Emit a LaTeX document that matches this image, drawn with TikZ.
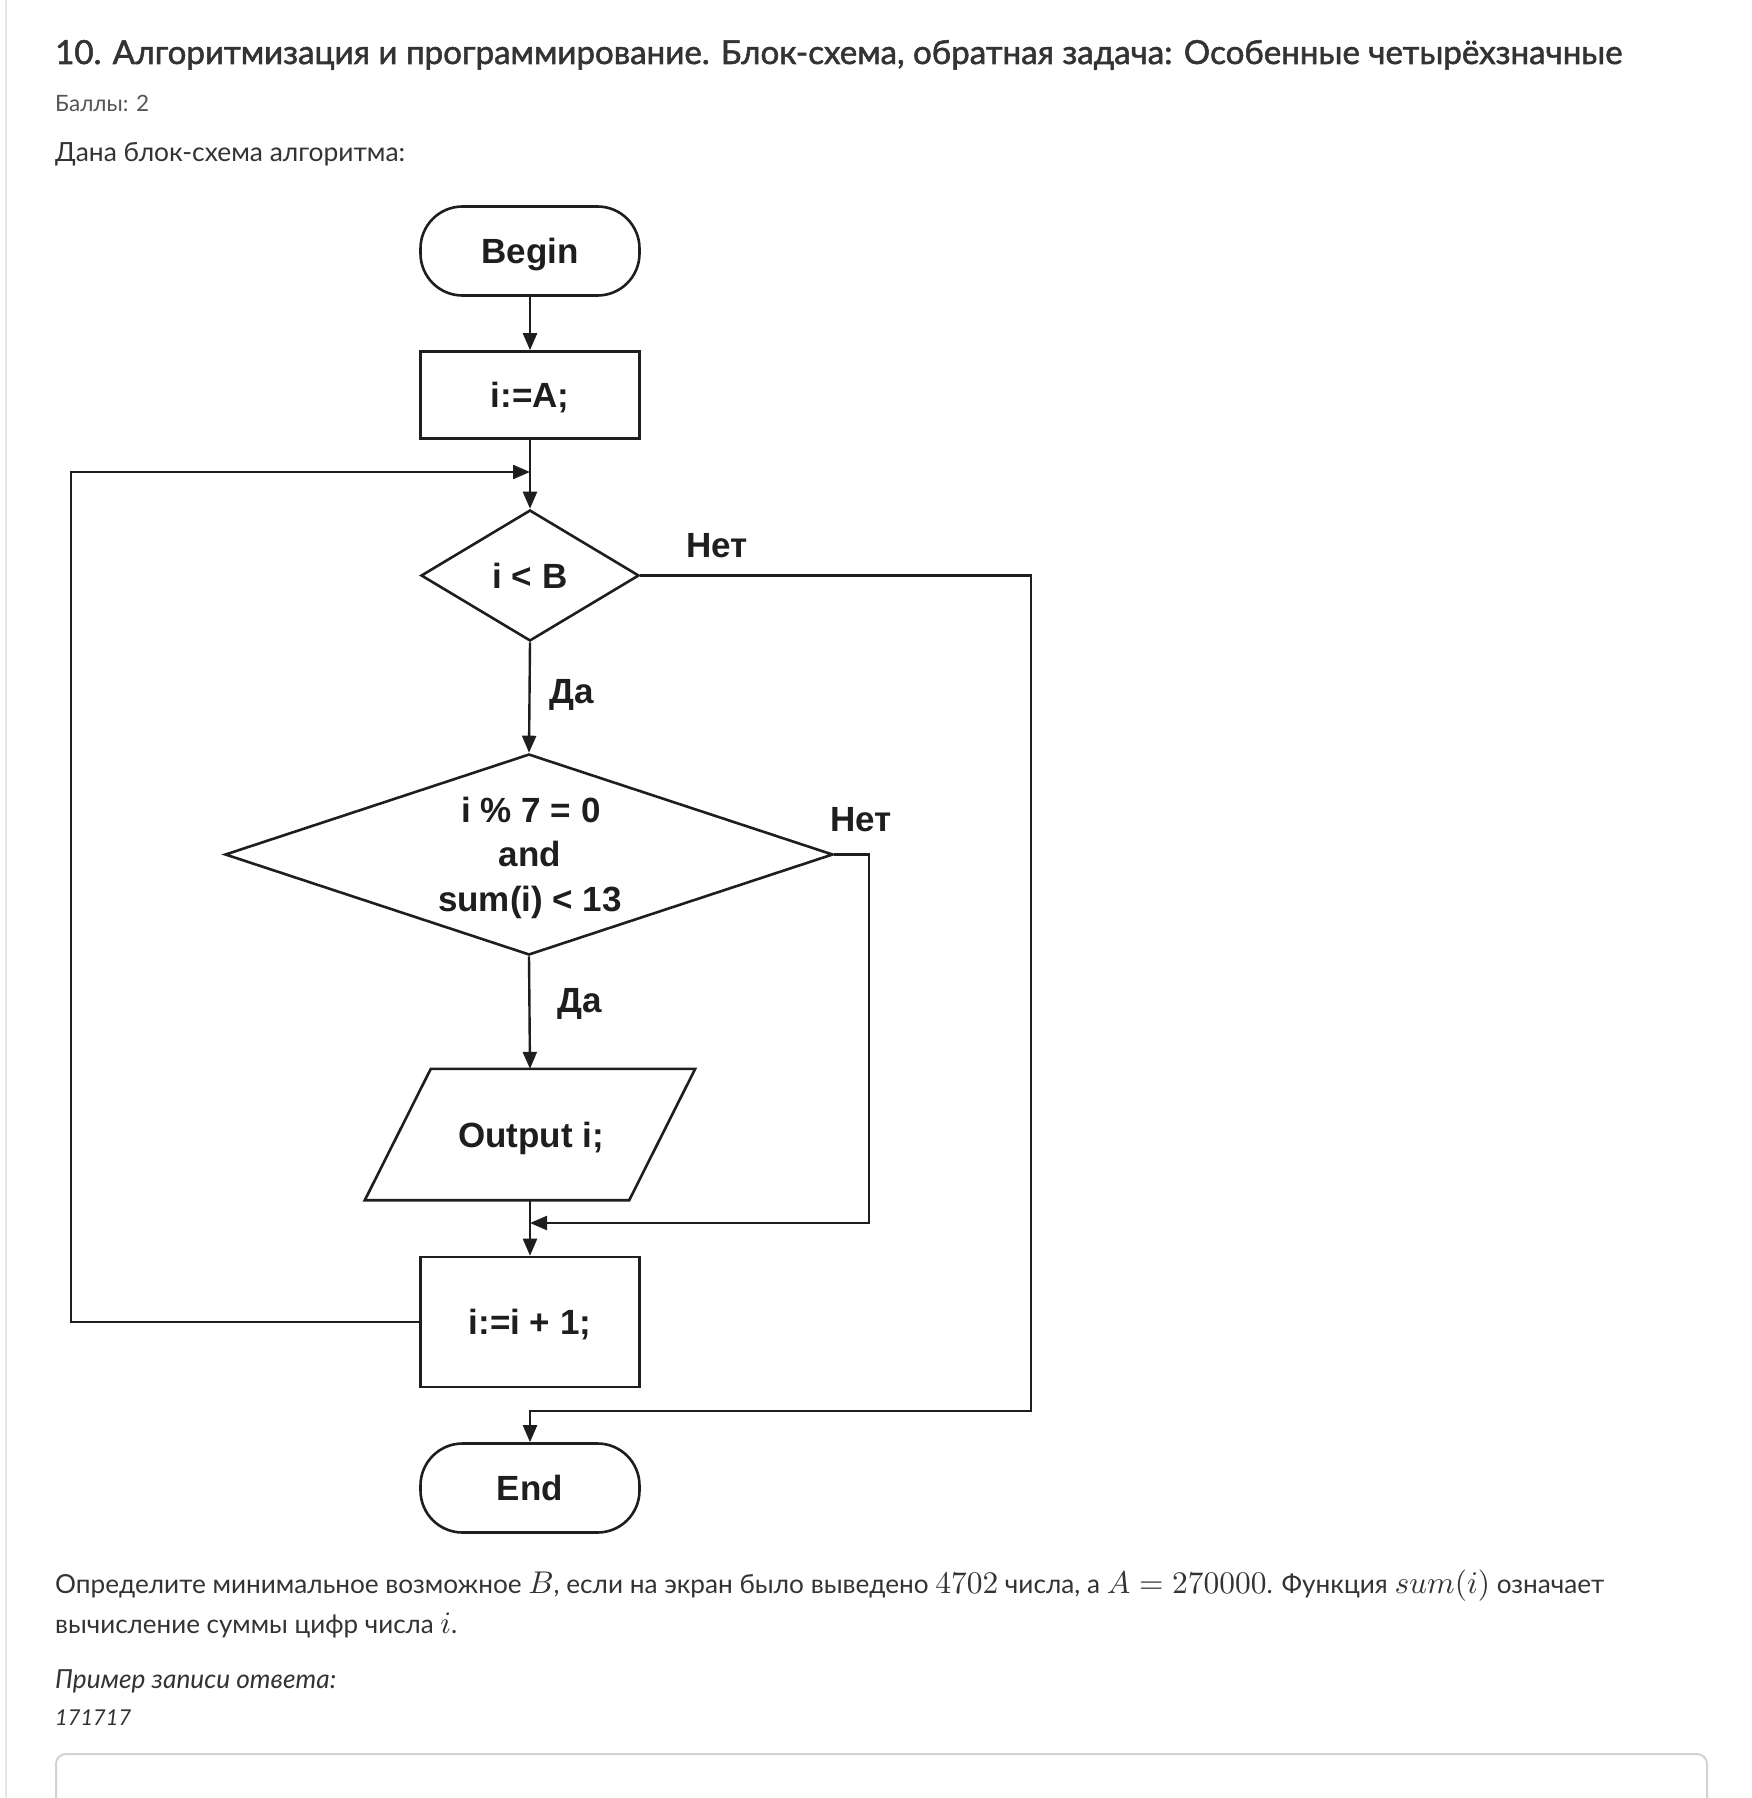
\documentclass[tikz,border=0pt]{standalone}
\usepackage{fontspec}
\usepackage{graphicx}
\setmainfont{Lato}
\newfontfamily\fcfont{Liberation Sans}
\newfontfamily\titlefont{Lato}[FakeBold=1.6]
\newcommand\mth[1]{\scalebox{1.2}{$#1$}}
\usetikzlibrary{shapes.geometric,arrows.meta}
\definecolor{txt}{HTML}{333333}
\definecolor{soft}{HTML}{555555}
\definecolor{edge}{HTML}{E6E6E6}
\definecolor{boxline}{HTML}{D2D2D2}
\definecolor{ink}{HTML}{1E1E1E}
\begin{document}
\begin{tikzpicture}[x=1pt,y=-1pt,
  fc/.style={draw=ink, line width=2.6pt, inner sep=0pt},
  lbl/.style={font=\fcfont\bfseries\fontsize{35}{42}\selectfont, text=ink, text height=25pt, text depth=0pt, inner sep=0pt},
  term/.style={fc, rectangle, rounded corners=42pt, minimum width=219pt, minimum height=89pt},
  proc/.style={fc, rectangle, minimum width=219pt},
  dec/.style={fc, diamond, aspect=1},
  conn/.style={draw=ink, line width=2.4pt},
  arr/.style={conn, -{Triangle[length=17pt,width=14pt]}},
  para/.style={anchor=base west, inner sep=0pt, text=txt}
]
\useasboundingbox (0,0) rectangle (1752,1798);
\fill[white] (0,0) rectangle (1752,1798);
\draw[edge, line width=2pt] (6,0) -- (6,1798);

% header texts
\node[para] (title) at (55,64) {\resizebox{1567pt}{!}{\titlefont 10. Алгоритмизация и программирование. Блок-схема, обратная задача: Особенные четырёхзначные}};
\node[para, text=soft] (score) at (55,112) {\resizebox{94pt}{!}{Баллы: 2}};
\node[para] (given) at (55,162) {\resizebox{350pt}{!}{Дана блок-схема алгоритма:}};

% flowchart nodes
\node[term, lbl] (begin) at (530,251) {Begin};
\node[proc, lbl, minimum height=87pt] (init) at (530,395) {i:=A;};
\node[dec, minimum width=218pt, minimum height=131pt] (d1) at (530,575.5) {};
\node[lbl] (d1t) at (d1.center) {i < B};
\node[dec, minimum width=608pt, minimum height=201pt] (d2) at (529,854.5) {};
\node[lbl, anchor=base] (d2a) at (531,822.5) {i \% 7 = 0};
\node[lbl, anchor=base] (d2b) at (530,866) {and};
\node[lbl, anchor=base] (d2c) at (530,911) {sum(i) < 13};
\node[inner sep=0pt, minimum width=264pt, minimum height=131pt] (out) at (530,1134.5) {};
\draw[fc] ([xshift=33pt]out.north west) -- ([xshift=33pt]out.north east) -- ([xshift=-33pt]out.south east) -- ([xshift=-33pt]out.south west) -- cycle;
\node[lbl] (outt) at (531,1134.5) {Output i;};
\node[proc, lbl, minimum height=130pt] (inc) at (530,1322) {i:=i + 1;};
\node[term, lbl] (end) at (530,1488) {End};

% joins
\coordinate (j1) at (530,472);
\coordinate (j2) at (530,1223);

% connectors
\draw[arr] (begin.south) -- (init.north);
\draw[conn] (init.south) -- (j1);
\draw[arr] (j1) -- (d1.north);
\draw[arr] (inc.west) -- (71,1322) -- (71,472) -- (j1);
\draw[arr] (d1.east) -- (1031,575.5) -- (1031,1411) -| (end.north);
\draw[arr] (d1.south) -- (d2.north);
\draw[arr] (d2.south) -- (out.north);
\draw[conn] (out.south) -- (j2);
\draw[arr] (j2) -- (inc.north);
\draw[arr] (d2.east) -- (869,854.5) -- (869,1223) -- (j2);

% branch labels
\node[lbl, anchor=base] (no1) at (717,557) {Нет};
\node[lbl, anchor=base] (yes1) at (572,703) {Да};
\node[lbl, anchor=base] (no2) at (861,831) {Нет};
\node[lbl, anchor=base] (yes2) at (580,1012) {Да};

% question text
\node[para] (q1) at (55,1593) {\resizebox{1549pt}{!}{Определите минимальное возможное \mth{B}, если на экран было выведено \mth{4702} числа, а \mth{A = 270000}. Функция \mth{sum(i)} означает}};
\node[para] (q2) at (55,1633) {\resizebox{402pt}{!}{вычисление суммы цифр числа \mth{i}.}};
\node[para] (ex1) at (55,1688) {\resizebox{281pt}{!}{\itshape Пример записи ответа:}};
\node[para] (ex2) at (55,1725) {\resizebox{76pt}{!}{\itshape 171717}};

% answer field
\draw[boxline, line width=2pt, rounded corners=10pt] (56,1830) -- (56,1754) -- (1707,1754) -- (1707,1830);
\end{tikzpicture}
\end{document}
